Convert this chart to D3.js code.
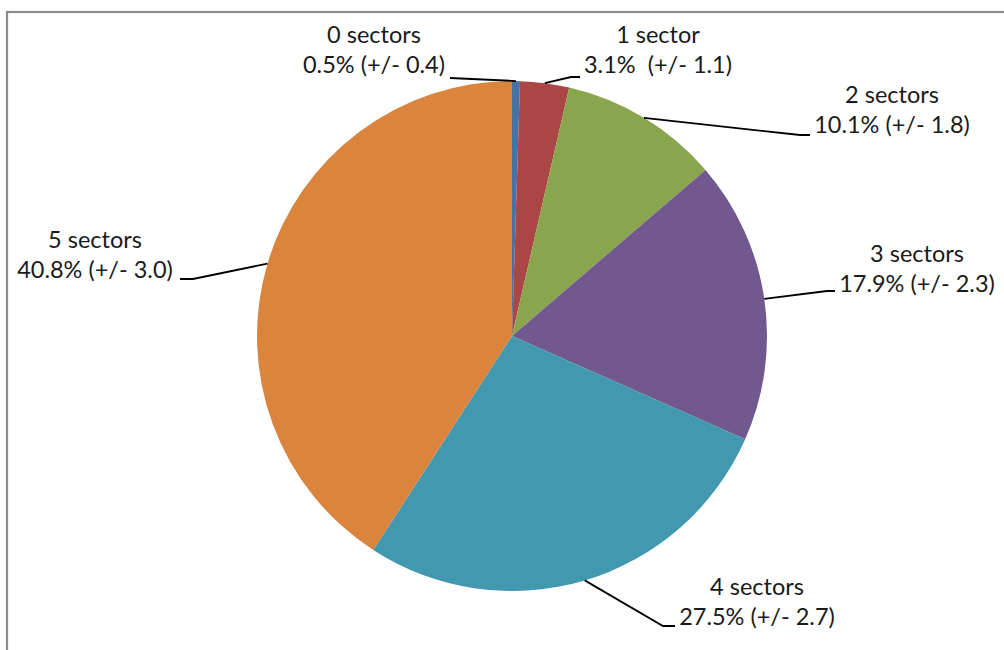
<!DOCTYPE html>
<html>
<head>
<meta charset="utf-8">
<script src="https://cdn.jsdelivr.net/npm/d3@7"></script>
<style>
  html, body { margin: 0; padding: 0; background: #fff; }
  svg { display: block; }
  text { font-family: Lato, "Open Sans", sans-serif; fill: #1a1a1a; white-space: pre; }
</style>
</head>
<body>
<svg id="chart" width="1004" height="650"></svg>
<script>
// Share of respondents by number of sectors, with margin of error
const categories = ["0 sectors", "1 sector", "2 sectors", "3 sectors", "4 sectors", "5 sectors"];
const shares     = [0.5, 3.1, 10.1, 17.9, 27.5, 40.8];
const margins    = [0.4, 1.1, 1.8, 2.3, 2.7, 3.0];
const gaps       = [" ", "  ", " ", " ", " ", " "];
const colors     = ["#4572A7", "#AA4643", "#89A54E", "#71588F", "#4198AF", "#DB843D"];

// Label placement: centre x and second-line baseline, plus the elbow
// where each leader line turns horizontal towards its label.
const labelLayout = [
  { cx: 374, y: 73,  elbow: [450, 78],  end: [450, 78] },
  { cx: 658, y: 73,  elbow: [571, 77],  end: [580, 77] },
  { cx: 892, y: 133, elbow: [800, 135], end: [810, 135] },
  { cx: 917, y: 292, elbow: [827, 291], end: [835, 291] },
  { cx: 757, y: 625, elbow: [663, 626], end: [675, 626] },
  { cx: 95,  y: 278, elbow: [193, 279], end: [180, 279] }
];

const svg = d3.select("#chart");
const W = 1004, H = 650;
const cx = 512, cy = 336, R = 255;

// Chart frame (only the top and left edges fall inside the view)
svg.append("rect")
  .attr("x", 7).attr("y", 12)
  .attr("width", W + 20).attr("height", H + 20)
  .attr("fill", "none")
  .attr("stroke", "#8c8c8c")
  .attr("stroke-width", 2.2);

const data = categories.map((c, i) => ({
  cat: c,
  value: shares[i],
  label: `${shares[i].toFixed(1)}%${gaps[i]}(+/- ${margins[i].toFixed(1)})`,
  i
}));

const pie = d3.pie().value(d => d.value).sort(null);
const arcs = pie(data);
const arc = d3.arc().innerRadius(0).outerRadius(R);

const g = svg.append("g").attr("transform", `translate(${cx},${cy})`);

g.selectAll("path.slice")
  .data(arcs)
  .join("path")
  .attr("class", "slice")
  .attr("d", arc)
  .attr("fill", d => colors[d.data.i]);

// Leader lines from each slice's outer edge midpoint to its label
const lead = svg.append("g");
arcs.forEach(a => {
  const mid = (a.startAngle + a.endAngle) / 2;
  const px = cx + R * Math.sin(mid);
  const py = cy - R * Math.cos(mid);
  const L = labelLayout[a.data.i];
  lead.append("path")
    .attr("d", d3.line()([[px, py], L.elbow, L.end]))
    .attr("fill", "none")
    .attr("stroke", "#000")
    .attr("stroke-width", 1.8);
});

// Two-line labels: category name above, share and margin below
const labels = svg.append("g");
arcs.forEach(a => {
  const L = labelLayout[a.data.i];
  const t = labels.append("text")
    .attr("text-anchor", "middle")
    .attr("font-size", 23.5);
  t.append("tspan").attr("x", L.cx).attr("y", L.y - 30).text(a.data.cat);
  t.append("tspan").attr("x", L.cx).attr("y", L.y).text(a.data.label);
});
</script>
</body>
</html>
